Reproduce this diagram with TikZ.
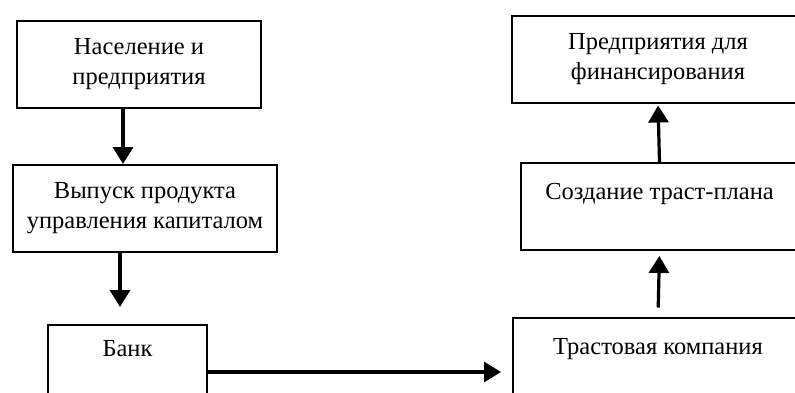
\documentclass[tikz,border=0pt]{standalone}
\usepackage{fontspec}
\setmainfont{Liberation Serif}
\usepackage{tikz}
\usetikzlibrary{calc,positioning,arrows.meta}
\tikzset{
  line/.style={-{Triangle[width=20pt,length=17pt]}, line width=3.2pt},
  box/.style={draw, line width=2pt, align=center, inner sep=3pt, font=\fontsize{24.5}{30}\selectfont},
  leftbox/.style={box, minimum height=87pt},
  rightbox/.style={box, minimum height=87pt}
}

\begin{document}
\begin{tikzpicture}[x=1pt, y=-1pt]
  \useasboundingbox (0,0) rectangle (795,392);
  \clip (0,0) rectangle (795,392);

  % left column
  \node[leftbox, minimum width=244pt] (people) at (139,64) {Население и\\предприятия};
  \node[leftbox, minimum width=264pt] (issue) at (145,208.5) {Выпуск продукта\\управления капиталом};
  \node[leftbox, minimum width=159pt, minimum height=76pt] (bank) at (127.5,363) {Банк\\\mbox{}};

  % right column
  \node[rightbox, minimum width=292pt] (firms) at (658,59) {Предприятия для\\финансирования};
  \node[rightbox, minimum width=277pt] (plan) at (659.5,206.5) {Создание траст-плана\\\mbox{}};
  \node[rightbox, minimum width=290pt] (trust) at (658,361) {Трастовая компания\\\mbox{}};

  \draw[line] ([xshift=-16pt]people.south) -- ([xshift=-16pt]people.south |- issue.north);
  \draw[line, shorten >=17pt] ([xshift=-25pt]issue.south) -- ([xshift=-25pt]issue.south |- bank.north);
  \draw[line, shorten >=11pt] ([yshift=-9pt]bank.east) -- ([yshift=-9pt]bank.east -| trust.west);
  \draw[line, shorten <=9pt, shorten >=5pt] (trust.north) -- (plan.south);
  \draw[line, shorten >=2pt] (plan.north) -- (firms.south);
\end{tikzpicture}
\end{document}
